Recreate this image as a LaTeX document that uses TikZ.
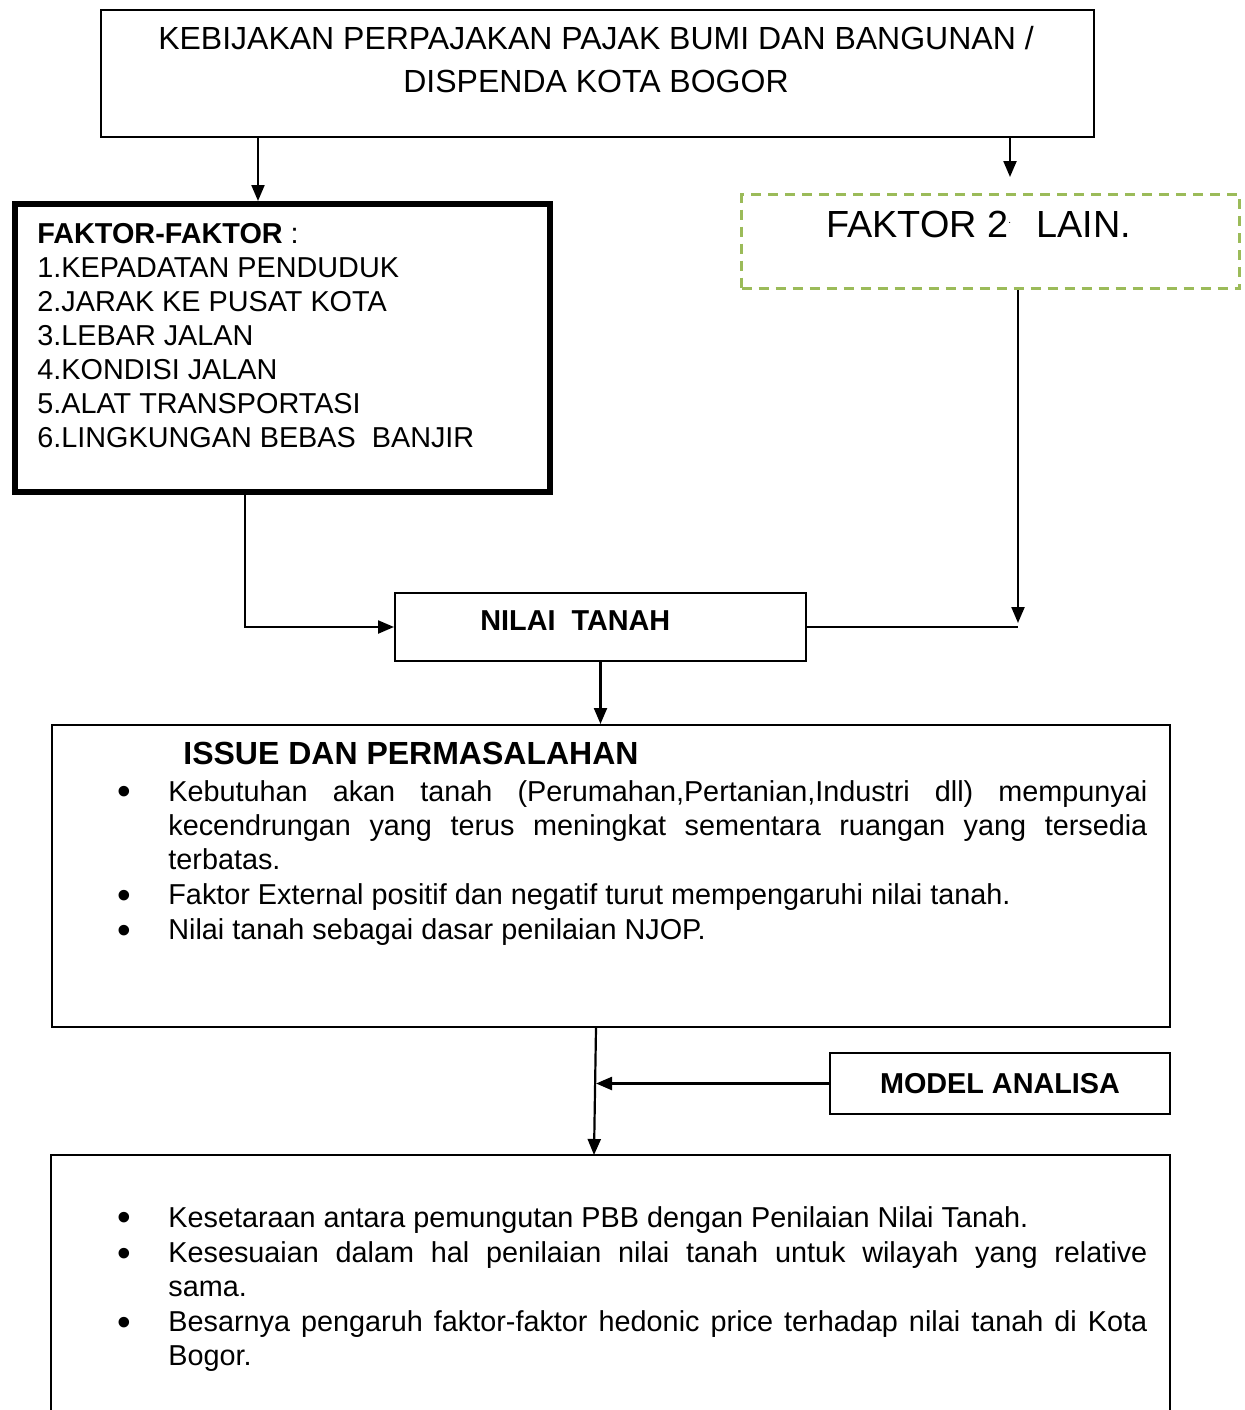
\documentclass[tikz,border=0pt]{standalone}
\usepackage{fontspec}
\setmainfont{Liberation Sans}
\usepackage{tikz}
\usetikzlibrary{positioning,calc,arrows.meta}
\definecolor{dashgreen}{HTML}{9BBB59}
\hyphenpenalty=10000
\exhyphenpenalty=10000
\tikzstyle{box} = [draw, rectangle, line width=1pt, anchor=north west, inner sep=0pt]
\tikzstyle{thickbox} = [box, line width=2.75pt]
\tikzstyle{greenbox} = [box, draw=dashgreen, line width=1.5pt, dash pattern=on 5pt off 3.5pt]
\tikzstyle{boxline} = [line width=1pt]
\tikzstyle{link} = [line width=1.1pt]
\tikzstyle{arrow} = [line width=1.1pt, -{Triangle[length=8pt,width=6.5pt]}]
\tikzstyle{txt} = [inner sep=0pt, align=left, font=\fontsize{14.4}{17}\selectfont]
\tikzstyle{bigtxt} = [inner sep=0pt, align=center, font=\fontsize{16}{21.5}\selectfont]
\tikzstyle{bullettxt} = [inner sep=0pt, text width=489.5pt, align=justify, font=\fontsize{14.4}{17}\selectfont]
\newcommand{\bulletline}{\noindent\llap{\raisebox{-1.8pt}{\scalebox{1.35}{\textbullet}}\hspace{18.5pt}}}

\begin{document}
\begin{tikzpicture}[x=0.5pt, y=-0.5pt]
    \useasboundingbox (0,0) rectangle (1245,1410);
    % boxes
    \node[box, minimum width=496.5pt, minimum height=63.5pt] (kebijakan) at (100,9) {};
    \node[thickbox, minimum width=267.5pt, minimum height=144pt] (faktor) at (12,201) {};
    \node[greenbox, minimum width=249pt, minimum height=47pt] (lain) at (740,193) {};
    \node[box, minimum width=205.5pt, minimum height=34pt] (nilai) at (394,592) {};
    \node[box, minimum width=559pt, minimum height=151pt] (issue) at (51,724) {};
    \node[box, minimum width=170pt, minimum height=30.5pt, font=\fontsize{14.4}{17}\selectfont\bfseries] (model) at (829,1052) {MODEL ANALISA};
    \node[anchor=north west, inner sep=0pt, minimum width=559pt, minimum height=135pt] (hasil) at (51,1155) {};
    \draw[boxline] (hasil.south west) -- (hasil.north west) -- (hasil.north east) -- (hasil.south east);

    % texts
    \node[bigtxt, anchor=base] (kebijakanTxt) at (596,92) {KEBIJAKAN PERPAJAKAN PAJAK BUMI DAN BANGUNAN /\\DISPENDA KOTA BOGOR};
    \node[txt, anchor=base west] (faktorTxt) at (37,447) {\textbf{FAKTOR-FAKTOR} :\\1.KEPADATAN PENDUDUK\\2.JARAK KE PUSAT KOTA\\3.LEBAR JALAN\\4.KONDISI JALAN\\5.ALAT TRANSPORTASI\\6.LINGKUNGAN BEBAS\ \ BANJIR};
    \node[inner sep=0pt, anchor=base west, font=\fontsize{18.9}{22}\selectfont] (lainTxt) at (826,237) {FAKTOR 2\makebox[14pt][l]{\raisebox{7pt}{\tiny .}}LAIN.};
    \node[txt, anchor=base west, font=\fontsize{14.4}{17}\selectfont\bfseries] (nilaiTxt) at (480,630) {NILAI\ \ TANAH};
    \node[inner sep=0pt, anchor=base west, font=\fontsize{16}{19}\selectfont\bfseries] (issueTxt) at (183,764) {ISSUE DAN PERMASALAHAN};
    \node[bullettxt, anchor=base west] (issueList) at (168,801) {\bulletline Kebutuhan akan tanah (Perumahan,Pertanian,Industri dll) mempunyai\linebreak kecendrungan yang terus meningkat sementara ruangan yang tersedia\linebreak terbatas.\par\vspace{0.7pt}
        \bulletline Faktor External positif dan negatif turut mempengaruhi nilai tanah.\par\vspace{0.7pt}
        \bulletline Nilai tanah sebagai dasar penilaian NJOP.};
    \node[bullettxt, anchor=base west] (hasilList) at (168,1227) {\bulletline Kesetaraan antara pemungutan PBB dengan Penilaian Nilai Tanah.\par\vspace{0.7pt}
        \bulletline Kesesuaian dalam hal penilaian nilai tanah untuk wilayah yang relative\linebreak sama.\par\vspace{0.7pt}
        \bulletline Besarnya pengaruh faktor-faktor hedonic price terhadap nilai tanah di Kota\linebreak Bogor.};

    % connectors
    \coordinate (k1) at ([xshift=79pt]kebijakan.south west);
    \coordinate (k2) at ([xshift=455pt]kebijakan.south west);
    \coordinate (f1) at ([xshift=116.5pt]faktor.south west);
    \coordinate (l1) at ([xshift=139pt]lain.south west);
    \coordinate (i1) at ([xshift=272.5pt]issue.south west);
    \coordinate (h1) at ([xshift=271.5pt]hasil.north west);
    \draw[arrow] (k1) -- (k1 |- faktor.north);
    \draw[arrow, shorten >=8pt] (k2) -- (k2 |- lain.north);
    \draw[arrow] (f1) |- (nilai.west);
    \draw[arrow, shorten >=2pt] (l1) -- (l1 |- nilai.east);
    \draw[link] (nilai.east) -- (l1 |- nilai.east);
    \draw[arrow] (nilai.south) -- (nilai.south |- issue.north);
    \draw[arrow] (i1) -- (h1);
    \draw[arrow] (model.west) -- (model.west -| i1);
\end{tikzpicture}
\end{document}
